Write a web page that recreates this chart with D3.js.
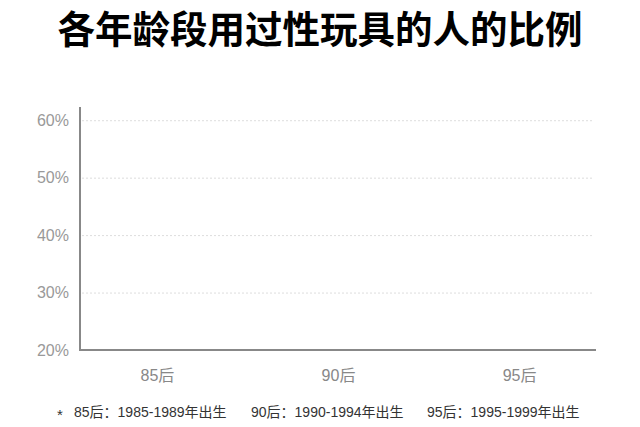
<!DOCTYPE html>
<html>
<head>
<meta charset="utf-8">
<script src="https://cdn.jsdelivr.net/npm/d3@7"></script>
<style>
  body { margin: 0; background: #fff; }
  text { font-family: "Liberation Sans", "Noto Sans CJK SC", sans-serif; }
</style>
</head>
<body>
<script>
var categories = ["85后", "90后", "95后"];
var yTicks = [0.2, 0.3, 0.4, 0.5, 0.6];
var notes = ["85后：1985-1989年出生", "90后：1990-1994年出生", "95后：1995-1999年出生"];
var title = "各年龄段用过性玩具的人的比例";

var width = 640, height = 427;
var margin = { top: 107, right: 44, bottom: 77, left: 80 };

var svg = d3.select("body").append("svg")
  .attr("width", width)
  .attr("height", height);

var x = d3.scalePoint()
  .domain(categories)
  .range([margin.left, width - margin.right])
  .padding(0.425);

var y = d3.scaleLinear()
  .domain([0.2, 0.623])
  .range([height - margin.bottom, margin.top]);

// title
svg.append("text")
  .attr("x", 320)
  .attr("y", 43)
  .attr("text-anchor", "middle")
  .attr("font-size", 37.5)
  .attr("font-weight", "bold")
  .attr("fill", "#000")
  .style("font-family", "\"Noto Sans CJK SC\", sans-serif")
  .text(title);

// dotted gridlines
svg.append("g")
  .selectAll("line")
  .data(yTicks.slice(1))
  .enter().append("line")
  .attr("x1", margin.left + 2)
  .attr("x2", width - margin.right - 3)
  .attr("y1", function (d) { return y(d) + 0.5; })
  .attr("y2", function (d) { return y(d) + 0.5; })
  .attr("stroke", "#ddd")
  .attr("stroke-width", 1)
  .attr("stroke-dasharray", "2 2");

// y axis
var yAxis = svg.append("g")
  .attr("transform", "translate(" + margin.left + ",0)")
  .call(d3.axisLeft(y).tickValues(yTicks).tickFormat(d3.format(".0%")).tickSize(0).tickPadding(11));
yAxis.select(".domain").remove();
yAxis.selectAll("text")
  .attr("font-size", 16)
  .attr("fill", "#999")
  .style("font-family", "\"Liberation Sans\", \"Noto Sans CJK SC\", sans-serif");

svg.append("line")
  .attr("x1", margin.left)
  .attr("x2", margin.left)
  .attr("y1", margin.top)
  .attr("y2", y(0.2) + 1)
  .attr("stroke", "#888")
  .attr("stroke-width", 2);

// x axis
var xAxis = svg.append("g")
  .attr("transform", "translate(0," + y(0.2) + ")")
  .call(d3.axisBottom(x).tickSize(0).tickPadding(20));
xAxis.select(".domain").remove();
xAxis.selectAll("text")
  .attr("font-size", 16)
  .attr("fill", "#888")
  .style("font-family", "\"Liberation Sans\", \"Noto Sans CJK SC\", sans-serif");

svg.append("line")
  .attr("x1", margin.left - 1)
  .attr("x2", width - margin.right)
  .attr("y1", y(0.2))
  .attr("y2", y(0.2))
  .attr("stroke", "#888")
  .attr("stroke-width", 2);

// footnote
var noteX = [74, 251, 427];
svg.append("text")
  .attr("x", 57)
  .attr("y", 420)
  .attr("font-size", 15)
  .attr("fill", "#333")
  .text("*");
svg.append("g")
  .selectAll("text")
  .data(notes)
  .enter().append("text")
  .attr("x", function (d, i) { return noteX[i]; })
  .attr("y", 417)
  .attr("font-size", 14)
  .attr("fill", "#333")
  .text(function (d) { return d; });
</script>
</body>
</html>
